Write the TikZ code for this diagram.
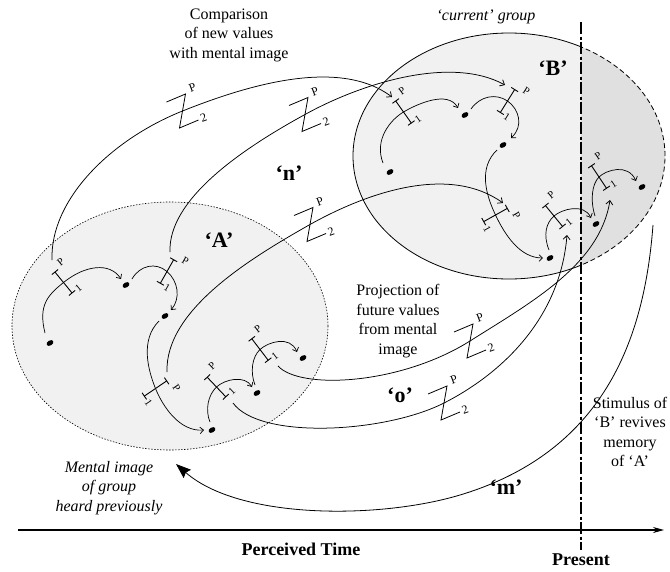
\documentclass[tikz,border=0pt]{standalone}
\usepackage{fontspec}
\setmainfont{Liberation Serif}
\usetikzlibrary{arrows.meta,shapes.geometric}
\definecolor{groupfill}{gray}{0.945}
\definecolor{nowfill}{gray}{0.88}
\tikzset{
  chain/.style={line width=0.7pt,-{Straight Barb[length=3.5pt,width=6.5pt]}},
  link/.style={line width=0.75pt,-{Straight Barb[length=4pt,width=7pt]}},
  beam/.style={line width=0.9pt},
  dot/.style={ellipse,fill=black,draw=none,inner sep=0pt,minimum width=7.5pt,minimum height=5pt,rotate=30},
  plab/.style={font=\fontsize{10.5}{11}\selectfont,inner sep=0pt,transform shape},
  zlab/.style={font=\fontsize{12}{12}\selectfont,inner sep=0pt,rotate=20},
  txt/.style={font=\fontsize{16}{19.5}\selectfont,align=center,inner sep=0pt},
  itxt/.style={font=\fontsize{16}{19.5}\selectfont\itshape,align=center,inner sep=0pt},
  biglab/.style={font=\fontsize{22}{24}\selectfont\bfseries,inner sep=0pt},
  axislab/.style={font=\fontsize{18}{20}\selectfont\bfseries,inner sep=0pt},
  nowline/.style={line width=1.1pt,dash pattern=on 12pt off 2.5pt on 3pt off 2.5pt},
  pics/pnode/.style={code={
    \draw[beam] (0,-13.5) -- (0,13.5);
    \draw[beam] (-4,-13.5) -- (4,-13.5);
    \draw[beam] (-4,13.5) -- (4,13.5);
    \node[plab] at (11,-18) {P};
    \node[plab] at (8,14) {1};
    \coordinate (-c) at (0,0);
  }},
  pics/zmark/.style={code={
    \draw[line width=0.8pt] (-16,-9) -- (3,-17) -- (-3,17) -- (16,9);
    \node[zlab] at (10,-23) {P};
    \node[zlab] at (21,7) {2};
  }},
}
\begin{document}
\begin{tikzpicture}[x=1pt,y=-1pt]
\useasboundingbox (0,0) rectangle (670,571);

% the two groups: 'A' remembered, 'B' current (its part past the present is darker)
\fill[groupfill] (170,326) ellipse [x radius=158pt, y radius=124pt];
\fill[groupfill] (509,156) ellipse [x radius=156pt, y radius=123pt];
\begin{scope}
  \clip (581,0) rectangle (670,571);
  \fill[nowfill] (509,156) ellipse [x radius=156pt, y radius=123pt];
  \draw[line width=0.8pt,dash pattern=on 5pt off 3pt] (509,156) ellipse [x radius=156pt, y radius=123pt];
\end{scope}
\begin{scope}
  \clip (0,0) rectangle (581,571);
  \draw[line width=0.8pt] (509,156) ellipse [x radius=156pt, y radius=123pt];
\end{scope}
\draw[line width=0.6pt,dash pattern=on 1.5pt off 1.5pt] (170,326) ellipse [x radius=158pt, y radius=124pt];

% time axis and the present
\coordinate (ax0) at (18,530);
\coordinate (ax1) at (664,530);
\draw[line width=1.1pt,-{Stealth[length=11pt,width=6pt]}] (ax0) -- (ax1);
\coordinate (nowtop) at (581,22);
\coordinate (nowbot) at (581,550);
\draw[nowline] (nowtop) -- (nowbot);

% events of group A
\node[dot] (a1) at (50,343) {};
\node[dot] (a2) at (126,285) {};
\node[dot] (a3) at (165,316) {};
\node[dot] (a4) at (212,430) {};
\node[dot] (a5) at (257,393) {};
\node[dot] (a6) at (303,358) {};
\pic[rotate=39.3] (pA1) at (63.5,282.5) {pnode};
\pic[rotate=-29.5] (pA2) at (167,271.5) {pnode};
\pic[rotate=-55.8] (pA3) at (155.5,388.5) {pnode};
\pic[rotate=43.5] (pA4) at (216.5,387) {pnode};
\pic[rotate=37.3] (pA5) at (260,349.5) {pnode};

\draw[chain] ([shift={(-5,-10)}]a1.center) .. controls (38,305) and (48,295) .. (pA1-c)
  .. controls (85,265) and (110,262) .. ([shift={(-5,-6)}]a2.center);
\draw[chain] ([shift={(6,-6)}]a2.center) .. controls (140,265) and (156,262) .. (pA2-c)
  .. controls (178,281) and (181,298) .. ([shift={(6,-6)}]a3.center);
\draw[chain] ([shift={(-6,5)}]a3.center) .. controls (140,340) and (148,370) .. (pA3-c)
  .. controls (163,407) and (180,432) .. ([shift={(-8,0)}]a4.center);
\draw[chain] ([shift={(-2,-8)}]a4.center) .. controls (205,410) and (208,395) .. (pA4-c)
  .. controls (225,379) and (245,375) .. ([shift={(-5,-6)}]a5.center);
\draw[chain] ([shift={(-2,-8)}]a5.center) .. controls (250,372) and (252,357) .. (pA5-c)
  .. controls (268,342) and (290,335) .. ([shift={(-6,-6)}]a6.center);

% events of group B
\node[dot] (b1) at (390,172) {};
\node[dot] (b2) at (465,115) {};
\node[dot] (b3) at (503,145) {};
\node[dot] (b4) at (550,258) {};
\node[dot] (b5) at (596,224) {};
\node[dot] (b6) at (642,187) {};
\pic[rotate=35.3] (pB1) at (403.5,112) {pnode};
\pic[rotate=-32] (pB2) at (507.5,101) {pnode};
\pic[rotate=-60.8] (pB3) at (495.5,215) {pnode};
\pic[rotate=39.3] (pB4) at (554,216) {pnode};
\pic[rotate=33.7] (pB5) at (599,177) {pnode};

\draw[chain] ([shift={(-7,-9)}]b1.center) .. controls (374,140) and (390,120) .. (pB1-c)
  .. controls (417,104) and (448,90) .. ([shift={(-7,-7)}]b2.center);
\draw[chain] ([shift={(6,-6)}]b2.center) .. controls (480,96) and (496,93) .. (pB2-c)
  .. controls (519,109) and (524,126) .. ([shift={(8,-7)}]b3.center);
\draw[chain] ([shift={(-6,5)}]b3.center) .. controls (478,168) and (486,195) .. (pB3-c)
  .. controls (505,235) and (520,258) .. ([shift={(-7,0)}]b4.center);
\draw[chain] ([shift={(-1,-8)}]b4.center) .. controls (543,235) and (546,223) .. (pB4-c)
  .. controls (562,209) and (584,203) .. ([shift={(-5,-6)}]b5.center);
\draw[chain] ([shift={(-1,-8)}]b5.center) .. controls (590,200) and (592,184) .. (pB5-c)
  .. controls (606,170) and (628,163) .. ([shift={(-6,-6)}]b6.center);

% links between the groups, each crossed by a P/2 mark
\coordinate (s1) at (52,260);   \coordinate (z1) at (182.5,111); \coordinate (e1) at (392,97);
\coordinate (s2) at (170,252);  \coordinate (z2) at (305,114.5); \coordinate (e2) at (505,85);
\coordinate (s3) at (167,372);  \coordinate (z3) at (310,224.5); \coordinate (e3) at (503,203);
\coordinate (s4) at (278,366);  \coordinate (z4) at (470,341);   \coordinate (e4) at (610,200);
\coordinate (s5) at (233,403);  \coordinate (z5) at (444,403);   \coordinate (e5) at (567,235);

\draw[link] (s1) .. controls (50,200) and (110,140) .. (z1) .. controls (250,84) and (340,58) .. (e1);
\draw[link] (s2) .. controls (168,200) and (240,150) .. (z2) .. controls (360,84) and (450,55) .. (e2);
\draw[link] (s3) .. controls (165,310) and (250,258.5) .. (z3) .. controls (370,191) and (450,165) .. (e3);
\draw[link] (s4) .. controls (300,390) and (400,385) .. (z4) .. controls (530,303) and (600,265) .. (e4);
\draw[link] (s5) .. controls (260,440) and (385,433) .. (z5) .. controls (500,374.5) and (560,320) .. (e5);
\pic at (z1) {zmark};
\pic at (z2) {zmark};
\pic at (z3) {zmark};
\pic at (z4) {zmark};
\pic at (z5) {zmark};

% stimulus of B reviving the memory of A
\coordinate (s6) at (653,225);
\coordinate (m6) at (460,495);
\coordinate (e6) at (176,464);
\draw[line width=0.8pt,-{Stealth[length=15pt,width=11pt,inset=2pt]}]
  (s6) .. controls (645,330) and (610,450) .. (m6) .. controls (380,519) and (240,520) .. (e6);

% labels
\node[txt] (cmp) at (229,35) {Comparison\\of new values\\with mental image};
\node[itxt] (cur) at (486,17) {‘current’ group};
\node[biglab] (lA) at (219,240) {‘A’};
\node[biglab] (lB) at (553,68) {‘B’};
\node[biglab] (ln) at (289,173) {‘n’};
\node[biglab] (lo) at (400,395) {‘o’};
\node[biglab] (lm) at (506,487) {‘m’};
\node[txt] (prj) at (398,321) {Projection of\\future values\\from mental\\image};
\node[itxt] (mem) at (109,488) {Mental image\\of group\\heard previously};
\node[txt] (stim) at (630,432) {Stimulus of\\‘B’ revives\\memory\\of ‘A’};
\node[axislab] (ptime) at (301,549) {Perceived Time};
\node[axislab] (pres) at (581,560) {Present};
\end{tikzpicture}
\end{document}
